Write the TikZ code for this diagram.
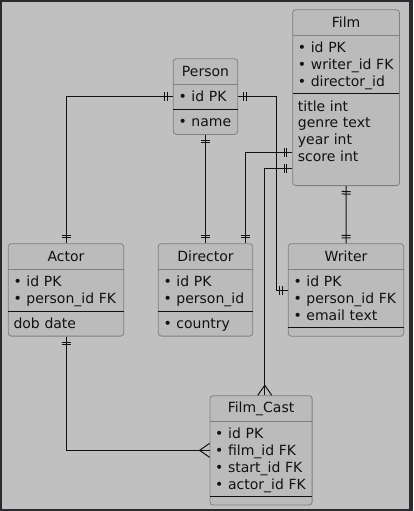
\documentclass[tikz,border=0pt]{standalone}
\usepackage{fontspec}
\setmainfont{DejaVu Sans}
\usepackage{xcolor}
\usepackage{tikz}
\usetikzlibrary{positioning, fit, backgrounds}
\usetikzlibrary{decorations.markings}

\definecolor{framedark}{HTML}{2B2B2F}
\definecolor{canvas}{HTML}{C0C0C0}
\definecolor{tablefill}{HTML}{BBBBBB}
\definecolor{tableedge}{HTML}{808080}
\definecolor{ink}{HTML}{111111}

\begin{document}
\begin{tikzpicture}[
    x=1pt, y=1pt,
    tabfont/.style={font=\fontsize{14}{16.7}\selectfont, text=ink},
    tabhead/.style={tabfont, inner xsep=5pt, inner ysep=0pt, minimum height=25.5pt, align=center},
    tabrows/.style={tabfont, inner xsep=5pt, inner ysep=3.9pt, align=left, execute at begin node={\rule{0pt}{13.2pt}}, execute at end node={\rule[-3.5pt]{0pt}{3.5pt}}},
    tabgap/.style={inner xsep=5pt, inner ysep=0pt, minimum height=8pt},
    tabbox/.style={draw=tableedge, fill=tablefill, rounded corners=3pt, inner sep=0pt, line width=0.8pt},
    headline/.style={draw=tableedge, line width=0.8pt},
    keyline/.style={draw=ink, line width=1pt},
    rel/.style={draw=ink, line width=1pt},
    onestart/.style={postaction={decorate, decoration={markings,
        mark=at position 5.5pt with {\draw[ink, line width=1pt] (0,-4.5pt) -- (0,4.5pt);},
        mark=at position 8pt with {\draw[ink, line width=1pt] (0,-4.5pt) -- (0,4.5pt);}}}},
    oneend/.style={postaction={decorate, decoration={markings,
        mark=at position -5.5pt with {\draw[ink, line width=1pt] (0,-4.5pt) -- (0,4.5pt);},
        mark=at position -8pt with {\draw[ink, line width=1pt] (0,-4.5pt) -- (0,4.5pt);}}}},
    manyend/.style={postaction={decorate, decoration={markings,
        mark=at position 1 with {\draw[ink, line width=1pt] (0,7pt) -- (-10pt,0) -- (0,-7pt);}}}}
]

\useasboundingbox (0,0) rectangle (413,-511);
\begin{scope}[on background layer]
\fill[framedark] (0,0) rectangle (413,-511);
\fill[canvas] (2,-2) rectangle (409,-508.5);
\end{scope}

% Person
\node[tabhead, text width=54pt, anchor=north west] (personhead) at (173.3,-58.7) {Person};
\node[tabrows, text width=54pt, below=0pt of personhead] (personkeys) {• id PK};
\node[tabrows, text width=54pt, below=0pt of personkeys] (personattr) {• name};

% Film
\node[tabhead, text width=96.3pt, anchor=north west] (filmhead) at (292.7,-9.7) {Film};
\node[tabrows, text width=96.3pt, below=0pt of filmhead] (filmkeys) {• id PK\\• writer\_id FK\\• director\_id};
\node[tabrows, text width=96.3pt, below=0pt of filmkeys] (filmattr) {title int\\genre text\\year int\\score int\\};

% Actor
\node[tabhead, text width=105pt, anchor=north west] (actorhead) at (8.3,-243.7) {Actor};
\node[tabrows, text width=105pt, below=0pt of actorhead] (actorkeys) {• id PK\\• person\_id FK};
\node[tabrows, text width=105pt, below=0pt of actorkeys] (actorattr) {dob date};

% Director
\node[tabhead, text width=84pt, anchor=north west] (directorhead) at (158.3,-243.7) {Director};
\node[tabrows, text width=84pt, below=0pt of directorhead] (directorkeys) {• id PK\\• person\_id};
\node[tabrows, text width=84pt, below=0pt of directorkeys] (directorattr) {• country};

% Writer
\node[tabhead, text width=105pt, anchor=north west] (writerhead) at (288.3,-243.7) {Writer};
\node[tabrows, text width=105pt, below=0pt of writerhead] (writerkeys) {• id PK\\• person\_id FK\\• email text};
\node[tabgap, text width=105pt, below=0pt of writerkeys] (writerattr) {};

% Film_Cast
\node[tabhead, text width=91.7pt, anchor=north west] (filmcasthead) at (210,-395.7) {Film\_Cast};
\node[tabrows, text width=91.7pt, below=0pt of filmcasthead] (filmcastkeys) {• id PK\\• film\_id FK\\• start\_id FK\\• actor\_id FK};
\node[tabgap, text width=91.7pt, below=0pt of filmcastkeys] (filmcastattr) {};

% Table outlines
\begin{scope}[on background layer]
\node[tabbox, fit=(personhead)(personattr)] (person) {};
\node[tabbox, fit=(filmhead)(filmattr)] (film) {};
\node[tabbox, fit=(actorhead)(actorattr)] (actor) {};
\node[tabbox, fit=(directorhead)(directorattr)] (director) {};
\node[tabbox, fit=(writerhead)(writerattr)] (writer) {};
\node[tabbox, fit=(filmcasthead)(filmcastattr)] (filmcast) {};
\end{scope}

% Dividers
\foreach \t in {person, film, actor, director, writer, filmcast} {
    \draw[headline] (\t head.south west) -- (\t head.south east);
    \draw[keyline] (\t keys.south west) -- (\t keys.south east);
}

% Relations
\draw[rel, onestart, oneend] (person.west) -| (actor.north);
\draw[rel, onestart, oneend] (person.south) -- (director.north);
\draw[rel, onestart, oneend] (person.east) -| ([xshift=-11.6pt]writer.west) -- (writer.west);
\draw[rel, onestart, oneend] ([yshift=-54.4pt]film.west) -| ([xshift=40pt]director.north);
\draw[rel, onestart, manyend] ([yshift=-71pt]film.west) -| ([xshift=3.7pt]filmcast.north);
\draw[rel, onestart, oneend] (film.south) -- (writer.north);
\draw[rel, onestart, manyend] (actor.south) |- (filmcast.west);

\end{tikzpicture}
\end{document}
